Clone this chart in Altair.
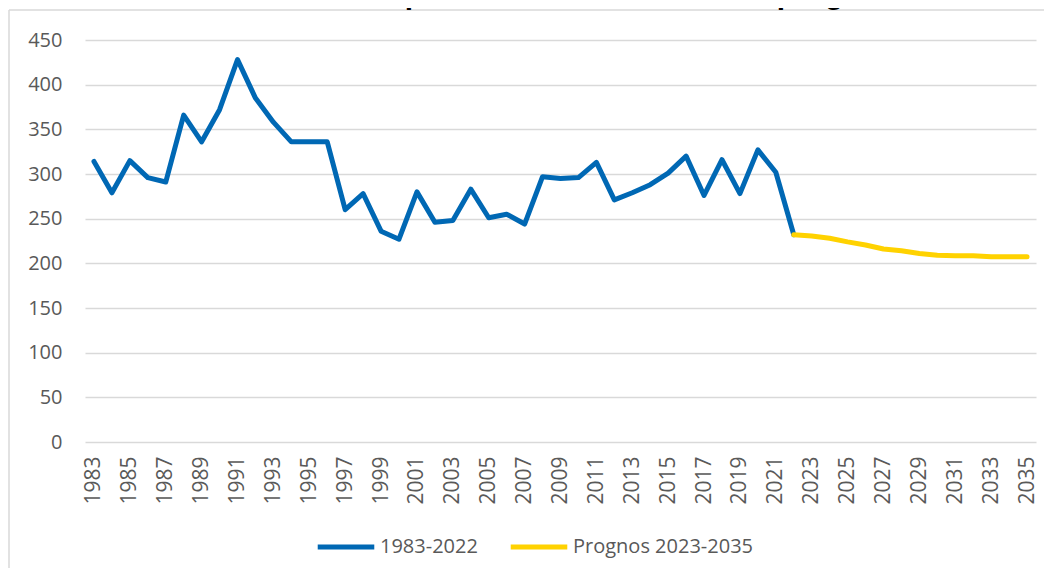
import altair as alt
import pandas as pd

title_text = "Antal barn som är 0 år under perioden 1983 – 2022 och prognos 2023 – 2035"

hist_years = list(range(1983, 2023))
hist_values = [314, 279, 315, 296, 291, 366, 336, 372, 428, 385,
               358, 336, 336, 336, 260, 278, 236, 227, 280, 246,
               248, 283, 251, 255, 244, 297, 295, 296, 313, 271,
               279, 288, 301, 320, 276, 316, 278, 327, 302, 232]

prog_years = list(range(2022, 2036))
prog_values = [232, 230.5, 228, 224, 220.5, 216, 214, 211, 209, 208.5,
               208.5, 207.5, 207.5, 207.5]

series_names = ["1983-2022", "Prognos 2023-2035"]
series_colors = ["#0068B4", "#FFD200"]

all_years = list(range(1983, 2036))
label_years = list(range(1983, 2036, 2))
y_ticks = list(range(0, 451, 50))

rows = [{"year": y, "value": v, "series": series_names[0]} for y, v in zip(hist_years, hist_values)]
rows += [{"year": y, "value": v, "series": series_names[1]} for y, v in zip(prog_years, prog_values)]
df = pd.DataFrame(rows)

FONT = "Open Sans"
TXT = "#595959"

lines = alt.Chart(df).mark_line(strokeWidth=5, strokeCap="round", strokeJoin="round").encode(
    x=alt.X("year:O", scale=alt.Scale(type="point", domain=all_years, padding=0.5),
            axis=alt.Axis(values=label_years, labelAngle=270, title=None, domain=False, ticks=False,
                          labelPadding=14, labelFontSize=21, labelColor=TXT, labelFont=FONT,
                          labelLimit=200, grid=False)),
    y=alt.Y("value:Q", scale=alt.Scale(domain=[0, 450], nice=False),
            axis=alt.Axis(values=y_ticks, title=None, domain=False, ticks=False, labelPadding=23,
                          labelFontSize=20, labelColor=TXT, labelFont=FONT,
                          gridColor="#d9d9d9", gridWidth=1.5)),
    color=alt.Color("series:N", scale=alt.Scale(domain=series_names, range=series_colors),
                    legend=alt.Legend(title=None, orient="none", legendX=230, legendY=476,
                                      direction="horizontal", symbolType="stroke", symbolSize=3200,
                                      symbolStrokeWidth=5, labelFontSize=20, labelColor=TXT,
                                      labelFont=FONT, labelOffset=3, columnPadding=22,
                                      labelLimit=400)),
    order=alt.Order("series:N"),
)

frame_df = pd.DataFrame({"k": [0]})
frame_top = alt.Chart(frame_df).mark_rule(stroke="#d9d9d9", strokeWidth=1.5).encode(
    x=alt.value(-76), x2=alt.value(959), y=alt.value(-30)
)
frame_left = alt.Chart(frame_df).mark_rule(stroke="#d9d9d9", strokeWidth=1.5).encode(
    x=alt.value(-76), y=alt.value(-30), y2=alt.value(528)
)

title_df = pd.DataFrame({"t": [title_text]})
title = alt.Chart(title_df).mark_text(fontSize=30, fontWeight="bold", font="Liberation Sans",
                                      align="left", baseline="alphabetic", color="#000000").encode(
    text="t:N", x=alt.value(-97), y=alt.value(-36)
)

chart = alt.layer(frame_top, frame_left, lines, title).properties(
    width=951, height=402,
    autosize=alt.AutoSizeParams(type="none"),
    padding={"left": 77, "top": 32, "right": 8, "bottom": 126},
).configure_view(stroke=None)

chart.save("out.html", embed_options={"renderer": "svg", "actions": False})
